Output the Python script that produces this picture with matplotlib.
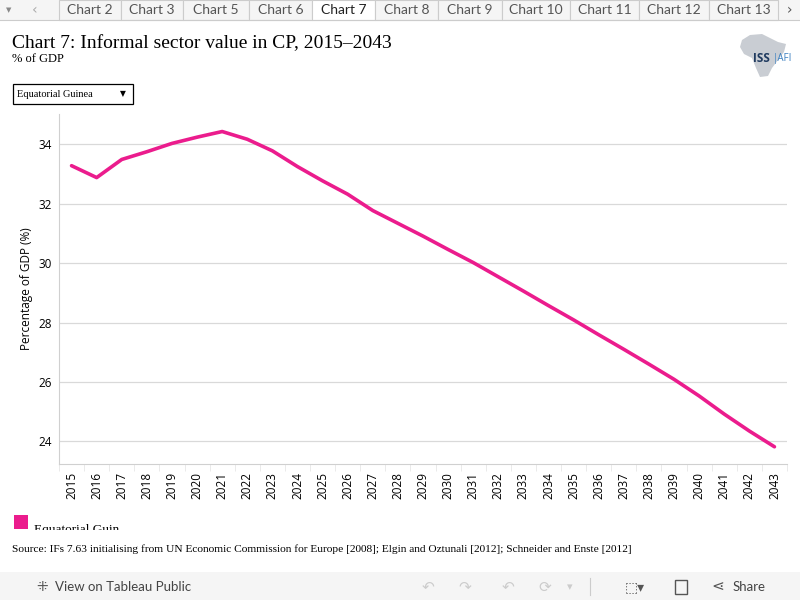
import numpy as np
import matplotlib.pyplot as plt
from matplotlib.patches import Rectangle, Polygon

# data
years = list(range(2015, 2044))
values = [33.28, 32.88, 33.49, 33.75, 34.03, 34.24, 34.43, 34.17, 33.78, 33.25,
          32.77, 32.32, 31.77, 31.34, 30.91, 30.46, 30.02, 29.54, 29.06, 28.57,
          28.09, 27.59, 27.10, 26.60, 26.09, 25.53, 24.92, 24.35, 23.82]
yticks = [24, 26, 28, 30, 32, 34]
tabs = ['Chart 2', 'Chart 3', 'Chart 5', 'Chart 6', 'Chart 7', 'Chart 8',
        'Chart 9', 'Chart 10', 'Chart 11', 'Chart 12', 'Chart 13']
country = 'Equatorial Guinea'

PINK = '#EB1C8D'
W, H = 800, 600

fig = plt.figure(figsize=(8, 6), dpi=100)


def fx(px): return px / W
def fy(py): return 1 - py / H


def box(x0, y0, w, h, **kw):
    # rectangle given in pixel coords (top-left origin)
    r = Rectangle((fx(x0), fy(y0 + h)), w / W, h / H, transform=fig.transFigure, **kw)
    fig.patches.append(r)
    return r


# --- tab bar at the top
box(0, 0, 800, 20, facecolor='#f5f5f5', edgecolor='none')
fig.lines.append(plt.Line2D([0, 1], [fy(20), fy(20)], transform=fig.transFigure,
                            color='#cccccc', lw=0.8))
fig.text(fx(9), fy(10), '▼', fontsize=5, color='#888888', ha='center', va='center')
fig.text(fx(35), fy(10), '‹', fontsize=10, color='#aaaaaa', ha='center', va='center')
tab_x = [59, 121, 183, 249, 312, 375, 438, 502, 570, 639, 709, 778]
for i, name in enumerate(tabs):
    x0, x1 = tab_x[i], tab_x[i + 1]
    active = name == 'Chart 7'
    box(x0, 0, x1 - x0, 20, facecolor='white' if active else '#f5f5f5',
        edgecolor='#cccccc', lw=0.8)
    fig.text(fx((x0 + x1) / 2), fy(10), name, fontsize=10, family='Lato',
             color='#222222' if active else '#555555', ha='center', va='center')
fig.text(fx(789), fy(10), '›', fontsize=10, color='#555555', ha='center', va='center')

# --- titles
fig.text(fx(12), fy(44), 'Chart 7: Informal sector value in CP, 2015\u20132043',
         family='Liberation Serif', fontsize=14, ha='left', va='center')
fig.text(fx(12), fy(59), '% of GDP', family='Liberation Serif', fontsize=9,
         ha='left', va='center')

# logo
africa = [(742, 40), (750, 35), (762, 34), (770, 38), (778, 42), (786, 44),
          (784, 52), (778, 60), (772, 68), (768, 76), (760, 77), (756, 68),
          (752, 58), (744, 54), (740, 47)]
fig.patches.append(Polygon([(fx(a), fy(b)) for a, b in africa], closed=True,
                           transform=fig.transFigure, facecolor='#c9cdd3',
                           edgecolor='none'))
fig.text(fx(753), fy(59), 'ISS', fontsize=8.5, color='#1f3a5f', weight='bold',
         family='Open Sans', ha='left', va='center')
fig.text(fx(773), fy(59), '|AFI', fontsize=7, color='#3a7fc0',
         family='Open Sans', ha='left', va='center')

# dropdown
box(13, 84, 120, 20, facecolor='white', edgecolor='black', lw=0.9)
fig.text(fx(17), fy(94), country, family='Liberation Serif', fontsize=7.5,
         ha='left', va='center')
fig.text(fx(123), fy(94), '▼', fontsize=5.5, ha='center', va='center')

# --- main plot
ax = fig.add_axes([fx(59), fy(464), (787 - 59) / W, (464 - 114) / H])
ax.plot(years, values, color=PINK, lw=2.6, solid_capstyle='round')
ax.set_xlim(2014.5, 2043.5)
ax.set_ylim(23.24, 35.02)
ax.set_yticks(yticks)
ax.set_yticklabels([str(v) for v in yticks], family='Open Sans', fontsize=8.5)
ax.set_xticks(years)
ax.set_xticklabels([str(y) for y in years], rotation=90, family='Open Sans',
                   fontsize=8.5)
ax.set_xticks(np.arange(2014.5, 2044, 1), minor=True)
ax.tick_params(axis='x', which='major', length=0, pad=6)
ax.tick_params(axis='x', which='minor', length=5, color='#e6e6e6')
ax.tick_params(axis='y', length=0, pad=5)
ax.grid(axis='y', color='#d9d9d9', lw=0.9)
ax.set_axisbelow(True)
for s in ['top', 'right']:
    ax.spines[s].set_visible(False)
ax.spines['left'].set_color('#d0d0d0')
ax.spines['bottom'].set_color('#d0d0d0')
ax.set_ylabel('Percentage of GDP (%)', family='Open Sans', fontsize=8.5,
              labelpad=4)

# legend, cut off at the bottom as in the reference
box(14, 515, 14, 14, facecolor=PINK, edgecolor='none')
fig.text(fx(34), fy(533), 'Equatorial Guin', family='Liberation Serif',
         fontsize=9.5, ha='left', va='baseline')
box(30, 530, 200, 10, facecolor='white', edgecolor='none', zorder=10)

fig.text(fx(12), fy(549),
         'Source: IFs 7.63 initialising from UN Economic Commission for Europe '
         '[2008]; Elgin and Oztunali [2012]; Schneider and Enste [2012]',
         family='Liberation Serif', fontsize=8.2, ha='left', va='center')

# --- bottom toolbar
box(0, 572, 800, 28, facecolor='#f5f5f5', edgecolor='none')
fig.text(fx(42), fy(587), '⁜', fontsize=10, color='#555555', ha='center', va='center')
fig.text(fx(55), fy(587), 'View on Tableau Public', family='Lato', fontsize=9.5,
         color='#444444', ha='left', va='center')
for x, sym in [(428, '↶'), (465, '↷'), (508, '↶'), (545, '⟳')]:
    fig.text(fx(x), fy(587), sym, fontsize=11, color='#cccccc', ha='center', va='center')
fig.text(fx(570), fy(587), '▾', fontsize=8, color='#cccccc', ha='center', va='center')
fig.lines.append(plt.Line2D([fx(590), fx(590)], [fy(578), fy(595)],
                            transform=fig.transFigure, color='#cccccc', lw=0.8))
fig.text(fx(635), fy(587), '⬚▾', fontsize=10, color='#555555', ha='center', va='center')
# full-screen icon drawn as a small square frame
box(675, 580, 12, 14, facecolor='none', edgecolor='#555555', lw=1.0)
fig.text(fx(718), fy(587), '⋖', fontsize=11, color='#555555', ha='center', va='center')
fig.text(fx(733), fy(587), 'Share', family='Lato', fontsize=9.5,
         color='#444444', ha='left', va='center')

fig.savefig('out.png', dpi=100)
